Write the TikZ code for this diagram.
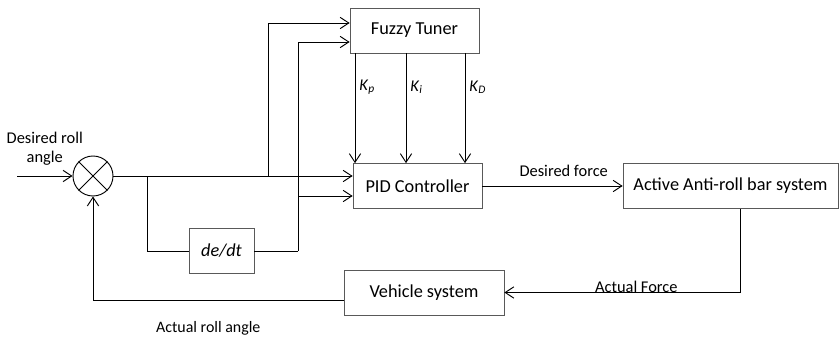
\documentclass[tikz,border=0pt]{standalone}
\usepackage{fontspec}
\setmainfont{Carlito}
\usetikzlibrary{arrows.meta}
\definecolor{BoxLine}{HTML}{595959}

\begin{document}
\begin{tikzpicture}[x=0.03cm,y=-0.03cm,
  blk/.style={draw=BoxLine,line width=0.6pt,inner sep=0pt,minimum height=1.35cm,font=\fontsize{15.6}{18}\selectfont},
  sig/.style={line width=0.8pt,-{Straight Barb[length=2.6mm,width=3.4mm]}},
  wire/.style={line width=0.8pt},
  lbl/.style={font=\fontsize{14}{16}\selectfont}]
\path[use as bounding box] (0,0) rectangle (839,338);
\node[draw,circle,line width=0.8pt,minimum size=1.2cm,inner sep=0pt] (sum) at (93,176) {};
\draw[wire] (sum.north west) -- (sum.south east) (sum.north east) -- (sum.south west);
\node[blk,minimum width=3.87cm] (fuzzy) at (414.5,30.5) {Fuzzy Tuner};
\node[blk,minimum width=3.87cm] (pid) at (417.5,186) {PID Controller};
\node[blk,minimum width=6.45cm] (arb) at (730.5,186) {Active Anti-roll bar system};
\node[blk,minimum width=4.8cm] (veh) at (424,292.5) {Vehicle system};
\node[blk,minimum width=1.95cm] (deriv) at (221.5,251) {\textit{de/dt}};
\coordinate (in) at (17,176);
\coordinate (b1) at (147,176);
\coordinate (b2) at (268,176);
\coordinate (b3) at (298,251);
\coordinate (drop) at (740,0);
\coordinate (kp) at (355,0);
\coordinate (ki) at (406,0);
\coordinate (kd) at (465,0);
\coordinate (fin1) at ([yshift=0.225cm]fuzzy.west);
\coordinate (fin2) at ([yshift=-0.345cm]fuzzy.west);
\coordinate (pin) at ([yshift=-0.3cm]pid.west);
\coordinate (fb) at ([yshift=-0.24cm]veh.west);
\draw[sig] (in) -- node[lbl,above=0.2cm,align=center] {Desired roll\\angle} (sum.west);
\draw[sig] (sum.east) -- (sum.east -| pid.west);
\draw[sig] (b2) |- (fin1);
\draw[sig] (b3) |- (fin2);
\draw[wire] (b1) |- (deriv.west);
\draw[wire] (deriv.east) -- (b3);
\draw[sig] (pin -| b3) -- (pin);
\draw[sig] (fuzzy.south -| kp) -- node[lbl,pos=0.31,right=0pt] {\textit{K}\textsubscript{\textit{p}}} (pid.north -| kp);
\draw[sig] (fuzzy.south -| ki) -- node[lbl,pos=0.31,right=0pt] {\textit{K}\textsubscript{\textit{i}}} (pid.north -| ki);
\draw[sig] (fuzzy.south -| kd) -- node[lbl,pos=0.31,right=0pt] {\textit{K}\textsubscript{\textit{D}}} (pid.north -| kd);
\draw[sig] (pid.east) -- node[lbl,pos=0.58,above=0.15cm] {Desired force} (arb.west);
\draw[sig] (arb.south -| drop) |- node[lbl,pos=0.72,anchor=base] {Actual Force} (veh.east);
\draw[sig] (fb) -| node[lbl,pos=0.27,below=0.5cm,font=\fontsize{13.6}{15}\selectfont] {Actual roll angle} (sum.south);
\end{tikzpicture}
\end{document}
